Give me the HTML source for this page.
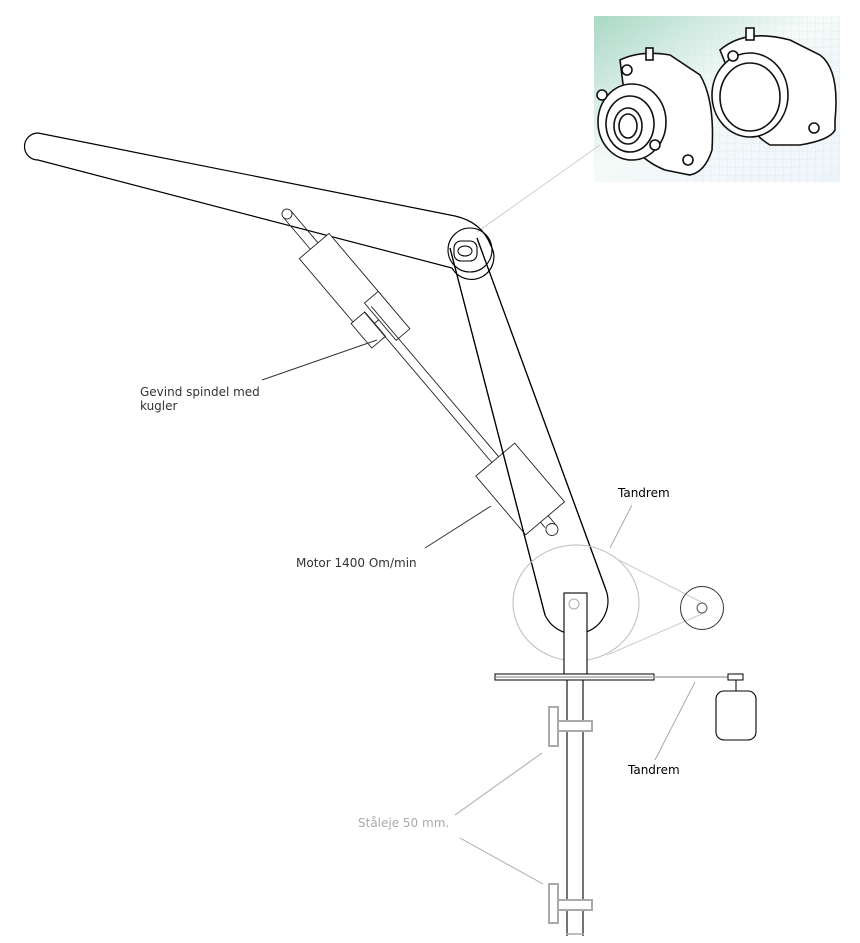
<!DOCTYPE html>
<html><head><meta charset="utf-8"><style>
html,body{margin:0;padding:0;background:#fff;}
svg{display:block}
text{font-family:"DejaVu Sans","Liberation Sans",sans-serif;font-size:12px;}
</style></head><body>
<svg width="860" height="943" viewBox="0 0 860 943" xmlns="http://www.w3.org/2000/svg">
<defs>
<linearGradient id="g" x1="0" y1="0" x2="1" y2="1">
<stop offset="0" stop-color="#a9d8c6"/><stop offset="0.45" stop-color="#f4faf8"/><stop offset="1" stop-color="#eef4fb"/>
</linearGradient>
<pattern id="grid" width="8" height="8" patternUnits="userSpaceOnUse">
<path d="M8 0V8H0" fill="none" stroke="#cfe0f2" stroke-width="0.6"/>
</pattern>
</defs>
<!-- photo -->
<rect x="594" y="16" width="246" height="166" fill="url(#g)"/>
<rect x="680" y="16" width="160" height="166" fill="url(#grid)" opacity="0.7"/>
<g fill="#fff" stroke="#111" stroke-width="1.6">
<path d="M720 50 Q745 28 790 40 L820 55 Q840 70 835 120 L835 130 Q830 140 800 145 L770 145 Q745 130 740 100 Z"/>
<ellipse cx="750" cy="95" rx="38" ry="42"/>
<ellipse cx="750" cy="97" rx="30" ry="34"/>
<circle cx="733" cy="56" r="5"/><circle cx="814" cy="128" r="5"/>
<rect x="746" y="28" width="8" height="12"/>
<path d="M620 60 Q640 50 670 55 L700 75 Q715 100 712 150 Q705 172 690 175 L665 170 Q640 160 630 140 Z"/>
<ellipse cx="632" cy="122" rx="34" ry="38"/>
<ellipse cx="630" cy="124" rx="24" ry="28"/>
<ellipse cx="628" cy="126" rx="14" ry="18"/>
<ellipse cx="628" cy="126" rx="9" ry="12"/>
<circle cx="627" cy="70" r="5"/><circle cx="688" cy="160" r="5"/>
<circle cx="602" cy="95" r="5"/><circle cx="655" cy="145" r="5"/>
<rect x="646" y="48" width="7" height="12"/>
</g>
<!-- leader pivot to photo -->
<line x1="477" y1="232" x2="600" y2="145" stroke="#ccc" stroke-width="1"/>
<!-- upper arm -->
<path d="M38 133 L455 216 Q482 222 491 246 A22 22 0 0 1 452 268 L38 160 A13.5 13.5 0 0 1 38 133 Z" fill="none" stroke="#000" stroke-width="1.2"/>
<!-- lower arm -->
<path d="M450 248 L545 615 A33 33 0 0 0 606 590 L477 238" fill="none" stroke="#000" stroke-width="1.2"/>
<circle cx="470" cy="250" r="22" fill="none" stroke="#000" stroke-width="1.1"/>
<rect x="454" y="241" width="23" height="20" rx="7" fill="#fff" stroke="#000" stroke-width="1.1"/>
<ellipse cx="465" cy="251" rx="7" ry="5" fill="none" stroke="#000"/>
<!-- actuator -->
<g transform="translate(287,214) rotate(49.7)" fill="none" stroke="#222" stroke-width="0.9">
<circle cx="0" cy="0" r="5"/>
<line x1="0" y1="-5" x2="42" y2="-5"/><line x1="0" y1="5" x2="42" y2="5"/>
<rect x="42" y="-19.5" width="98" height="39" fill="#fff"/>
<rect x="118" y="-19.5" width="49" height="18" fill="#fff"/>
<rect x="125" y="4" width="32" height="18" fill="#fff"/>
<line x1="125" y1="-4.5" x2="322" y2="-4.5"/><line x1="125" y1="4.5" x2="322" y2="4.5"/>
<rect x="322" y="-25.5" width="77" height="51" fill="none"/>
<line x1="399" y1="-4" x2="412" y2="-4"/><line x1="399" y1="6" x2="406" y2="6"/>
<circle cx="412" cy="2" r="6" fill="#fff"/>
</g>
<!-- redraw arm lines over actuator -->
<path d="M450 248 L545 615 M606 590 L477 238" fill="none" stroke="#000" stroke-width="1.2"/>
<!-- pulleys -->
<ellipse cx="576" cy="603" rx="63" ry="58" fill="none" stroke="#bbb" stroke-width="1"/>
<line x1="615" y1="558" x2="703" y2="603" stroke="#ccc"/>
<line x1="607" y1="655" x2="704" y2="613" stroke="#ccc"/>
<circle cx="702" cy="608" r="21.5" fill="none" stroke="#333"/>
<circle cx="702" cy="608" r="5" fill="none" stroke="#555"/>
<!-- post -->
<rect x="564" y="593" width="23" height="81" fill="#fff" stroke="#000" stroke-width="1.1"/>
<circle cx="574" cy="604" r="5" fill="none" stroke="#aaa"/>
<!-- plate -->
<rect x="495" y="674" width="159" height="6" fill="#fff" stroke="#000"/>
<line x1="496" y1="677" x2="728" y2="677" stroke="#aaa" stroke-width="1.5"/>
<rect x="728" y="674" width="15" height="6" fill="#fff" stroke="#000"/>
<line x1="736" y1="680" x2="736" y2="691" stroke="#000"/>
<rect x="716" y="691" width="40" height="49" rx="8" fill="#fff" stroke="#000" stroke-width="1.1"/>
<!-- shaft -->
<line x1="567" y1="680" x2="567" y2="936" stroke="#000" stroke-width="1.1"/>
<line x1="583" y1="680" x2="583" y2="936" stroke="#000" stroke-width="1.1"/>
<line x1="566" y1="934" x2="584" y2="934" stroke="#aaa" stroke-width="1.5"/>
<!-- bearings -->
<g fill="#fff" stroke="#aaa" stroke-width="2">
<rect x="549" y="707" width="9" height="39"/><rect x="558" y="721" width="34" height="10"/>
<rect x="549" y="884" width="9" height="39"/><rect x="558" y="900" width="34" height="10"/>
</g>
<!-- leaders -->
<g stroke="#aaa" stroke-width="1">
<line x1="542" y1="753" x2="455" y2="815"/>
<line x1="460" y1="838" x2="543" y2="884"/>
<line x1="632" y1="505" x2="610" y2="548"/>
<line x1="695" y1="682" x2="655" y2="760"/>
</g>
<line x1="262" y1="380" x2="377" y2="340" stroke="#333"/>
<line x1="425" y1="548" x2="491" y2="506" stroke="#333"/>
<text x="140" y="396" fill="#333">Gevind spindel med</text>
<text x="140" y="410" fill="#333">kugler</text>
<text x="296" y="567" fill="#333">Motor 1400 Om/min</text>
<text x="618" y="497" fill="#000">Tandrem</text>
<text x="628" y="774" fill="#000">Tandrem</text>
<text x="358" y="827" fill="#aaa">Ståleje 50 mm.</text>
</svg>
</body></html>
